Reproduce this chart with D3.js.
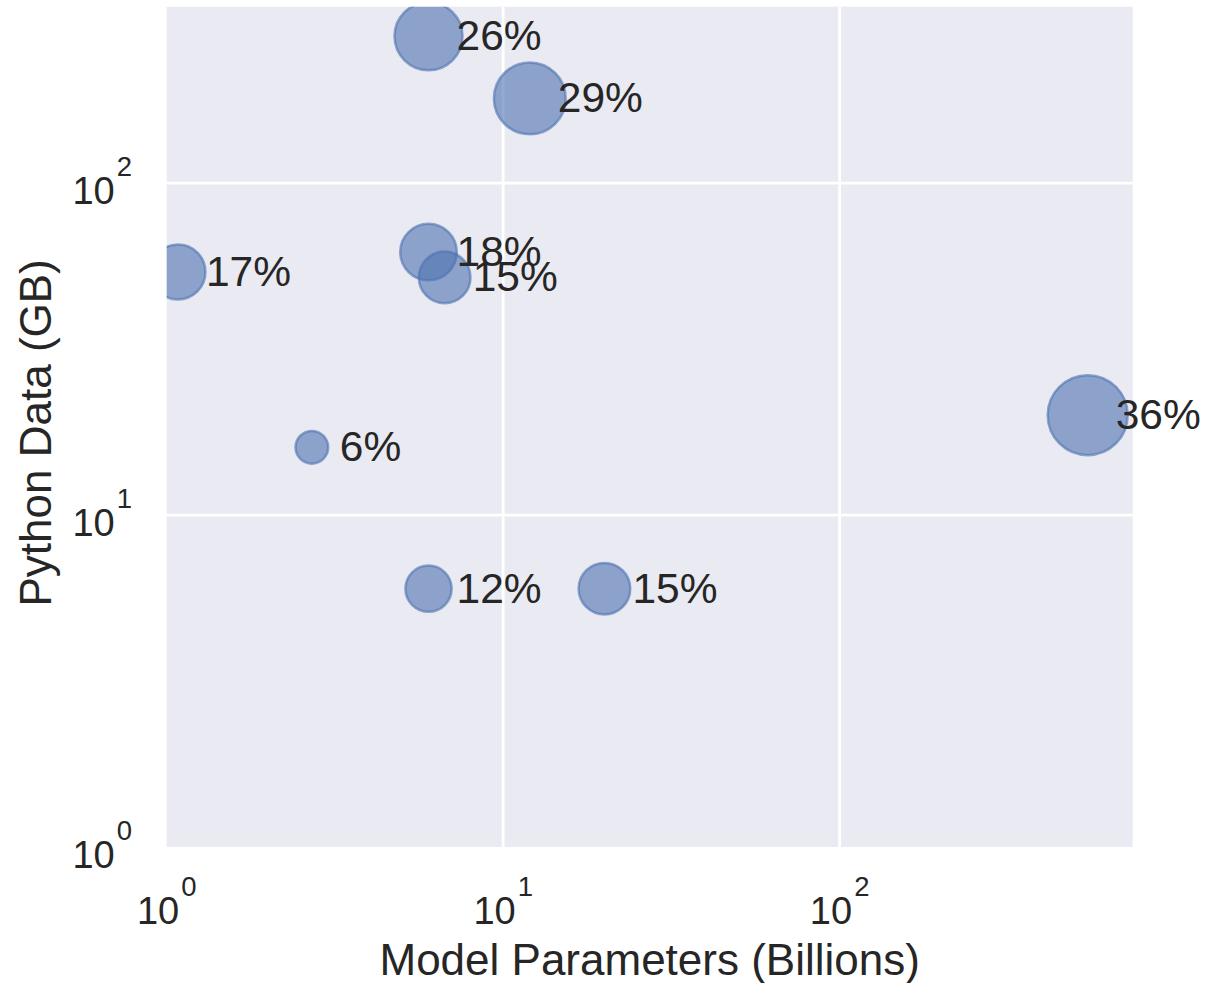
<!DOCTYPE html>
<html>
<head>
<meta charset="utf-8">
<script src="https://cdn.jsdelivr.net/npm/d3@7"></script>
<style>
  html, body { margin: 0; padding: 0; background: #ffffff; }
  svg { display: block; font-family: "Liberation Sans", Arial, Helvetica, sans-serif; }
</style>
</head>
<body>
<svg id="chart" width="1206" height="983"></svg>
<script>
// Model size (billions of parameters), Python training data (GB) and pass rate (%)
const modelParams = [6, 12, 1.08, 6, 6.7, 546, 2.7, 6, 20];
const pythonData  = [277, 180, 54, 62, 52, 20, 16, 6, 6];
const passRate    = [26, 29, 17, 18, 15, 36, 6, 12, 15];

const xTickValues = [1, 10, 100];
const yTickValues = [1, 10, 100];
const xTitle = "Model Parameters (Billions)";
const yTitle = "Python Data (GB)";

const points = modelParams.map((x, i) => ({ x, y: pythonData[i], p: passRate[i] }));

const W = 1206, H = 983;
const plot = { left: 166.7, right: 1132.7, top: 6.7, bottom: 847 };

const x = d3.scaleLog().domain([1, 743]).range([plot.left, plot.right]);
const y = d3.scaleLog().domain([1, 340]).range([plot.bottom, plot.top]);
const r = d3.scaleSqrt().domain([0, 36]).range([0, 40]);

const textColor = "#262626";
const dotColor = "#4C72B0";

const svg = d3.select("#chart");

// plot background
svg.append("rect")
  .attr("x", plot.left).attr("y", plot.top)
  .attr("width", plot.right - plot.left).attr("height", plot.bottom - plot.top)
  .attr("fill", "#EAEAF2");

svg.append("clipPath").attr("id", "plot-clip")
  .append("rect")
  .attr("x", plot.left).attr("y", plot.top)
  .attr("width", plot.right - plot.left).attr("height", plot.bottom - plot.top);

// grid lines
const grid = svg.append("g").attr("stroke", "#ffffff").attr("stroke-width", 2.8);
grid.selectAll("line.vx").data(xTickValues.filter(v => x(v) > plot.left + 1))
  .join("line").attr("class", "vx")
  .attr("x1", d => x(d)).attr("x2", d => x(d))
  .attr("y1", plot.top).attr("y2", plot.bottom);
grid.selectAll("line.hy").data(yTickValues.filter(v => y(v) < plot.bottom - 1))
  .join("line").attr("class", "hy")
  .attr("y1", d => y(d)).attr("y2", d => y(d))
  .attr("x1", plot.left).attr("x2", plot.right);

// power-of-ten tick label: "10" with a raised exponent
function powerLabel(sel, v) {
  const e = Math.round(Math.log10(v));
  sel.append("tspan").attr("font-size", 38).text("10");
  sel.append("tspan").attr("font-size", 27.5).attr("dx", 2).attr("dy", -28).text(String(e));
}

// x axis tick labels
const xAxis = svg.append("g");
xTickValues.forEach(v => {
  const t = xAxis.append("text")
    .attr("x", x(v)).attr("y", 923.5)
    .attr("text-anchor", "middle")
    .attr("fill", textColor);
  powerLabel(t, v);
});

// y axis tick labels
const yAxis = svg.append("g");
yTickValues.forEach(v => {
  const t = yAxis.append("text")
    .attr("x", 132).attr("y", y(v) + 21.3)
    .attr("text-anchor", "end")
    .attr("fill", textColor);
  powerLabel(t, v);
});

// axis titles
svg.append("text")
  .attr("x", (plot.left + plot.right) / 2).attr("y", 975)
  .attr("text-anchor", "middle")
  .attr("font-size", 44).attr("fill", textColor)
  .text(xTitle);

svg.append("text")
  .attr("transform", `translate(51, ${(plot.top + plot.bottom) / 2 + 6}) rotate(-90)`)
  .attr("text-anchor", "middle")
  .attr("font-size", 44).attr("fill", textColor)
  .text(yTitle);

// bubbles
svg.append("g").attr("clip-path", "url(#plot-clip)")
  .selectAll("circle").data(points).join("circle")
  .attr("cx", d => x(d.x)).attr("cy", d => y(d.y))
  .attr("r", d => r(d.p))
  .attr("fill", dotColor).attr("fill-opacity", 0.6)
  .attr("stroke", dotColor).attr("stroke-opacity", 0.6)
  .attr("stroke-width", 2.5);

// value labels beside each bubble
svg.append("g").selectAll("text").data(points).join("text")
  .attr("x", d => x(d.x) + 28).attr("y", d => y(d.y) + 14)
  .attr("font-size", 42.5).attr("fill", textColor)
  .text(d => `${d.p}%`);
</script>
</body>
</html>
